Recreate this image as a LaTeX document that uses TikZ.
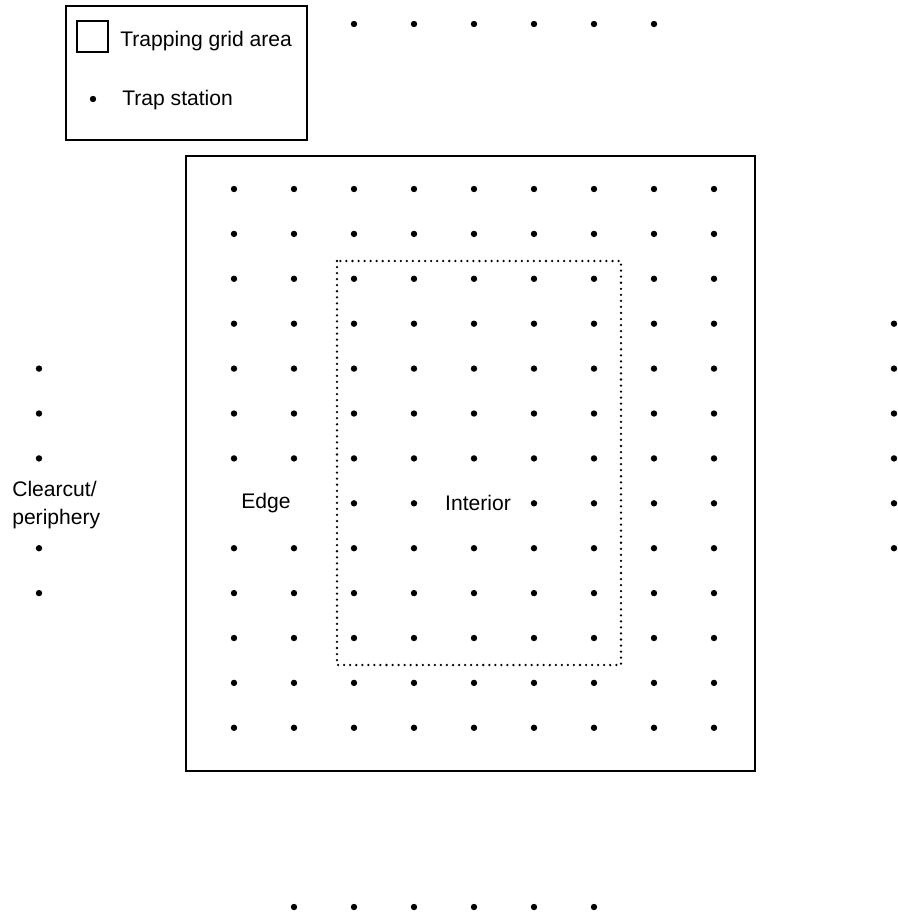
\documentclass[tikz,border=0pt]{standalone}
\usepackage{fontspec}
\setmainfont{Liberation Sans}

\tikzset{
	station/.style={circle, fill=black, inner sep=0pt, minimum size=0.16cm},
	label/.style={font=\fontsize{15}{20}\selectfont, inner sep=0pt},
}

\begin{document}
\begin{tikzpicture}[x=0.025cm, y=-0.025cm, line join=miter]
	\useasboundingbox (0,0) rectangle (897,916);

	% legend
	\draw[line width=1.1pt] (66,6) rectangle (307,140);
	\node (Key) [draw, line width=1.4pt, minimum size=0.775cm, inner sep=0pt] at (92.5,36.5) {};
	\node (KeyText) [label, anchor=base west] at (120,46) {Trapping grid area};
	\node (KeyDot) [station] at (93,99) {};
	\node (DotText) [label, anchor=base west] at (122,105) {Trap station};

	% trapping grid and interior
	\draw[line width=1.4pt] (186,156) rectangle (755,771);
	\draw[line width=1.8pt, line cap=round, dash pattern=on 0pt off 4.3pt] (337,261) rectangle (621,665);

	\foreach \i in {1,...,9}
		\foreach \j in {1,...,13} {
			\ifnum\j=8
				\ifnum\i=1 \else\ifnum\i=2 \else\ifnum\i=5 \else
					\node (G-\i-\j) [station] at ({234+60*(\i-1)},{189+44.9*(\j-1)}) {};
				\fi\fi\fi
			\else
				\node (G-\i-\j) [station] at ({234+60*(\i-1)},{189+44.9*(\j-1)}) {};
			\fi
		}
	\node (Edge) [label] at (266,503) {Edge};
	\node (Interior) [label] at (478,503) {Interior};

	% periphery stations
	\foreach \i in {1,...,6} {
		\node (T-\i) [station] at ({354+60*(\i-1)},24) {};
		\node (B-\i) [station] at ({294+60*(\i-1)},907) {};
	}
	\foreach \j in {5,6,7,9,10}
		\node (L-\j) [station] at (39,{189+44.9*(\j-1)}) {};
	\foreach \j in {4,...,9}
		\node (R-\j) [station] at (894,{189+44.9*(\j-1)}) {};
	\node (Clearcut) [label, align=left, anchor=west, font=\fontsize{15}{20.5}\selectfont] at (12,505) {Clearcut/\\periphery};
\end{tikzpicture}
\end{document}
